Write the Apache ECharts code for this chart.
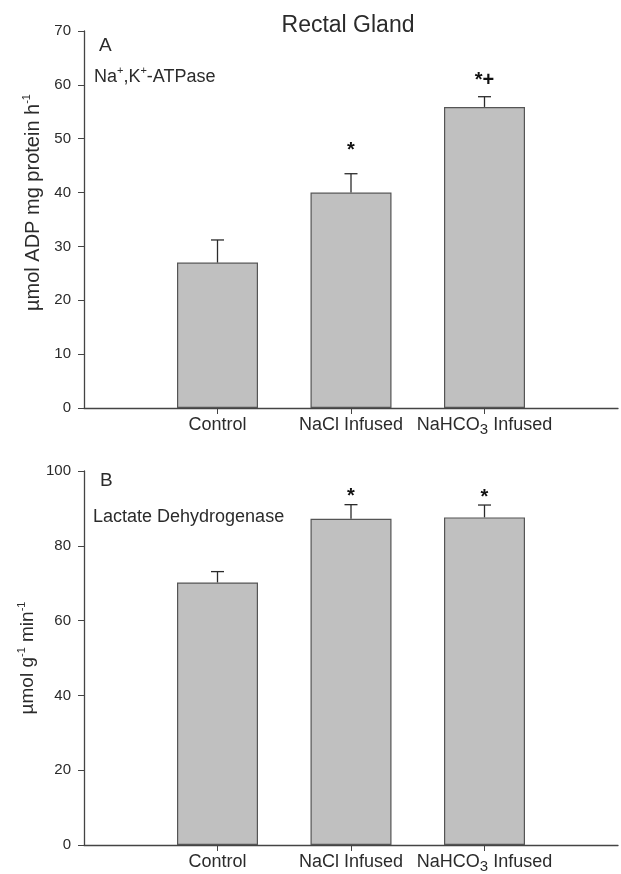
<!DOCTYPE html>
<html>
<head>
<meta charset="utf-8">
<script src="https://cdn.jsdelivr.net/npm/echarts@6/dist/echarts.min.js"></script>
<style>
    html, body { margin: 0; padding: 0; background: #fff; }
    #chart { width: 621px; height: 874px; }
</style>
</head>
<body>
<div id="chart"></div>
<script>
// padded with an empty slot on each side so the bars sit where the original put them
const categories = ['', 'Control', 'NaCl Infused', 'NaHCO3 Infused', ''];

// panel A: Na+,K+-ATPase
const atpaseMean = [27.0, 40.0, 55.9];
const atpaseErr = [4.2, 3.5, 1.9];
const atpaseSig = ['', '*', '*+'];
const atpaseSigLevel = [null, 47.9, 60.9];

// panel B: lactate dehydrogenase
const ldhMean = [70.2, 87.2, 87.6];
const ldhErr = [2.9, 3.8, 3.3];
const ldhSig = ['', '*', '*'];
const ldhSigLevel = [null, 93.2, 92.9];

const yTicksA = { min: 0, max: 70, interval: 10 };
const yTicksB = { min: 0, max: 100, interval: 20 };

const FONT = 'Arial, "Liberation Sans", sans-serif';
const INK = '#2b2b2b';

const chart = echarts.init(document.getElementById('chart'));

function barData(values) {
    return ['-'].concat(values).concat(['-']);
}

function errData(mean, err, sig, level) {
    return mean.map((m, i) => [i + 1, m, err[i], level[i] == null ? m : level[i], sig[i]]);
}

function renderErr(params, api) {
    const idx = api.value(0);
    const mean = api.value(1);
    const err = api.value(2);
    const base = api.coord([idx, mean]);
    const top = api.coord([idx, mean + err]);
    const sigPos = api.coord([idx, api.value(3)]);
    const sig = api.value(4);
    const half = 6.5;
    const children = [
        { type: 'line', shape: { x1: base[0], y1: base[1], x2: top[0], y2: top[1] },
          style: { stroke: INK, lineWidth: 1.3 } },
        { type: 'line', shape: { x1: top[0] - half, y1: top[1], x2: top[0] + half, y2: top[1] },
          style: { stroke: INK, lineWidth: 1.3 } }
    ];
    if (sig) {
        children.push({ type: 'text', style: {
            text: sig, x: sigPos[0], y: sigPos[1], align: 'center', verticalAlign: 'middle',
            font: 'bold 20px ' + FONT, fill: '#111'
        } });
    }
    return { type: 'group', children: children };
}

const labelRich = {
    sub: { fontSize: 15, lineHeight: 12, verticalAlign: 'bottom', fontFamily: FONT, color: INK }
};

function xAxis(gridIndex) {
    return {
        type: 'category',
        gridIndex: gridIndex,
        data: categories,
        boundaryGap: false,
        axisLine: { lineStyle: { color: '#444', width: 1.3 } },
        axisTick: { length: 6, interval: (i) => i > 0 && i < 4, lineStyle: { color: '#444' } },
        axisLabel: {
            interval: 0,
            margin: 5,
            fontSize: 18,
            lineHeight: 24,
            fontFamily: FONT,
            color: INK,
            formatter: (v) => v.replace('HCO3', 'HCO{sub|3}'),
            rich: labelRich
        },
        splitLine: { show: false }
    };
}

function yAxis(gridIndex, ticks, name, gap, shift, size) {
    return {
        type: 'value',
        gridIndex: gridIndex,
        min: ticks.min,
        max: ticks.max,
        interval: ticks.interval,
        name: name,
        nameLocation: 'middle',
        nameGap: gap,
        nameMoveOverlap: false,
        nameTextStyle: {
            fontSize: size, lineHeight: 24, fontFamily: FONT, color: INK,
            padding: [0, 0, 0, shift],
            rich: { sup: { fontSize: 11, lineHeight: 12, verticalAlign: 'top', fontFamily: FONT, color: INK } }
        },
        axisLine: { show: true, lineStyle: { color: '#444', width: 1.3 } },
        axisTick: { show: true, length: 6, lineStyle: { color: '#444' } },
        axisLabel: { fontSize: 15, margin: 13, fontFamily: FONT, color: INK },
        splitLine: { show: false }
    };
}

const annRich = {
    sup: { fontSize: 11, lineHeight: 12, verticalAlign: 'top', fontFamily: FONT, color: INK }
};

function note(text, left, top, size) {
    return {
        text: text, left: left, top: top, padding: 0,
        textStyle: { fontSize: size, lineHeight: 24, fontWeight: 'normal', fontFamily: FONT, color: INK, rich: annRich }
    };
}

const titleMain = {
    text: 'Rectal Gland', left: 348, top: 12, textAlign: 'center', padding: 0,
    textStyle: { fontSize: 23, lineHeight: 28, fontWeight: 'normal', fontFamily: FONT, color: INK }
};

chart.setOption({
    animation: false,
    backgroundColor: '#fff',
    title: [
        titleMain,
        note('A', 99, 34, 19),
        note('Na{sup|+},K{sup|+}-ATPase', 94, 65, 18),
        note('B', 100, 469, 19),
        note('Lactate Dehydrogenase', 93, 505, 18)
    ],
    grid: [
        { left: 84, right: -3, top: 31, height: 377 },
        { left: 84, right: -3, top: 471, height: 377.5 }
    ],
    xAxis: [xAxis(0), xAxis(1)],
    yAxis: [
        yAxis(0, yTicksA, 'µmol ADP mg protein h{sup|-1}', 39, 34, 20),
        yAxis(1, yTicksB, 'µmol g{sup|-1} min{sup|-1}', 44, 0, 19)
    ],
    series: [
        {
            type: 'bar', xAxisIndex: 0, yAxisIndex: 0, barWidth: 81,
            data: barData(atpaseMean),
            itemStyle: { color: '#c0c0c0', borderColor: '#555', borderWidth: 1.2 }
        },
        {
            type: 'custom', xAxisIndex: 0, yAxisIndex: 0,
            renderItem: renderErr,
            data: errData(atpaseMean, atpaseErr, atpaseSig, atpaseSigLevel),
            z: 3
        },
        {
            type: 'bar', xAxisIndex: 1, yAxisIndex: 1, barWidth: 81,
            data: barData(ldhMean),
            itemStyle: { color: '#c0c0c0', borderColor: '#555', borderWidth: 1.2 }
        },
        {
            type: 'custom', xAxisIndex: 1, yAxisIndex: 1,
            renderItem: renderErr,
            data: errData(ldhMean, ldhErr, ldhSig, ldhSigLevel),
            z: 3
        }
    ]
});
</script>
</body>
</html>
